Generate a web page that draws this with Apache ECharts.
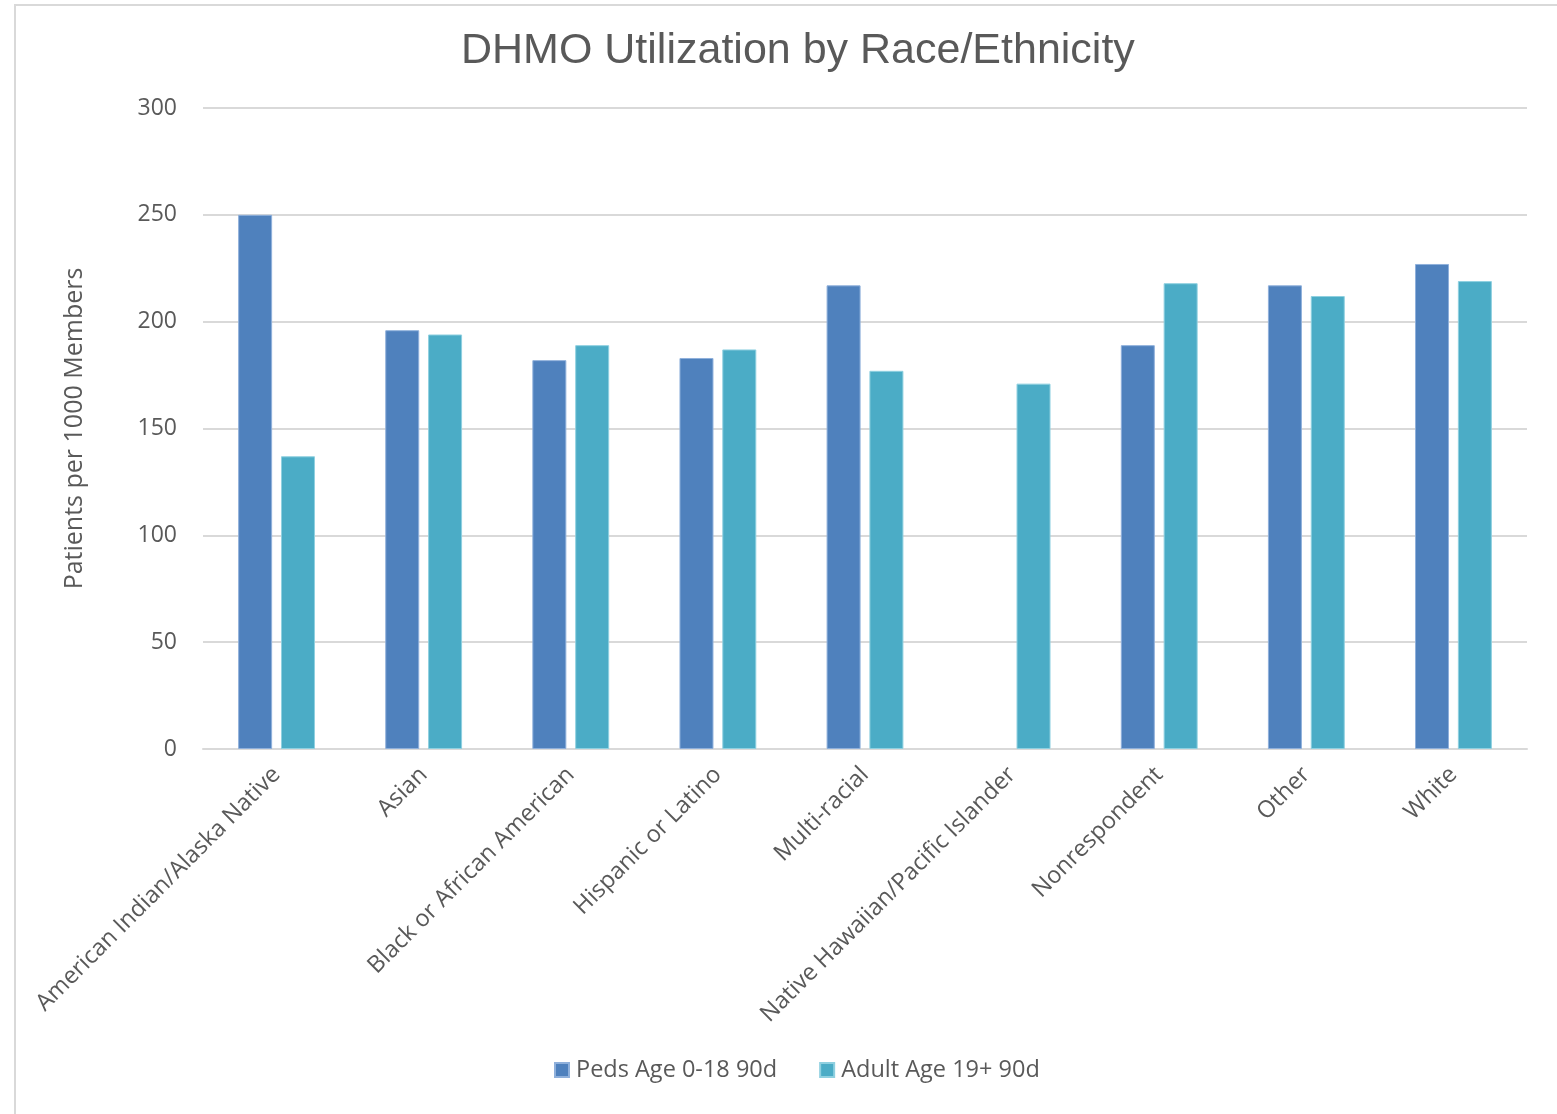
<!DOCTYPE html>
<html>
<head>
<meta charset="utf-8">
<script src="https://cdn.jsdelivr.net/npm/echarts@6/dist/echarts.min.js"></script>
<style>html,body{margin:0;padding:0;background:#fff;}#c{width:1557px;height:1114px;}</style>
</head>
<body>
<div id="c"></div>
<script>
const categories = ["American Indian/Alaska Native","Asian","Black or African American","Hispanic or Latino","Multi-racial","Native Hawaiian/Pacific Islander","Nonrespondent","Other","White"];
const pedsValues = [250, 196, 182, 183, 217, null, 189, 217, 227];
const adultValues = [137, 194, 189, 187, 177, 171, 218, 212, 219];
const seriesNames = ["Peds Age 0-18 90d", "Adult Age 19+ 90d"];
const yTicks = [0, 50, 100, 150, 200, 250, 300];

const chart = echarts.init(document.getElementById('c'));
const font = '"Open Sans", Lato, sans-serif';
chart.setOption({
  animation: false,
  backgroundColor: '#fff',
  graphic: [{
    type: 'rect', z: -1,
    shape: {x: 15, y: 5, width: 1700, height: 1300},
    style: {fill: 'none', stroke: '#d9d9d9', lineWidth: 2}
  }],
  title: {
    text: 'DHMO Utilization by Race/Ethnicity',
    left: 456, top: 25,
    textStyle: {fontFamily: '"Liberation Sans", Arial, sans-serif', fontSize: 43, fontWeight: 'normal', color: '#595959'}
  },
  legend: {
    data: seriesNames,
    bottom: 27, left: 549,
    itemWidth: 14, itemHeight: 14, itemGap: 42,
    icon: 'rect',
    textStyle: {fontFamily: font, fontSize: 23.5, color: '#595959', padding: [0, 0, 0, 2]}
  },
  grid: {left: 203, right: 30, top: 108, bottom: 365},
  xAxis: {
    type: 'category', data: categories,
    axisLine: {lineStyle: {color: '#d9d9d9', width: 2}},
    axisTick: {show: false},
    axisLabel: {rotate: 45, interval: 0, margin: 22, fontFamily: font, fontSize: 23.5, color: '#595959'}
  },
  yAxis: {
    type: 'value', min: 0, max: 300, interval: 50,
    name: 'Patients per 1000 Members', nameLocation: 'middle', nameGap: 116,
    nameTextStyle: {fontFamily: font, fontSize: 25, color: '#595959'},
    axisLine: {show: false}, axisTick: {show: false},
    axisLabel: {margin: 26, fontFamily: font, fontSize: 23, color: '#595959',
      formatter: v => yTicks.includes(v) ? String(v) : ''},
    splitLine: {lineStyle: {color: '#d9d9d9', width: 2}}
  },
  series: [
    {name: seriesNames[0], type: 'bar', data: pedsValues, barWidth: 34, barGap: '26%',
      itemStyle: {color: '#4F81BD', borderColor: '#8fb0db', borderWidth: 1}},
    {name: seriesNames[1], type: 'bar', data: adultValues, barWidth: 34,
      itemStyle: {color: '#4BACC6', borderColor: '#8fd0e0', borderWidth: 1}}
  ]
});
</script>
</body>
</html>
